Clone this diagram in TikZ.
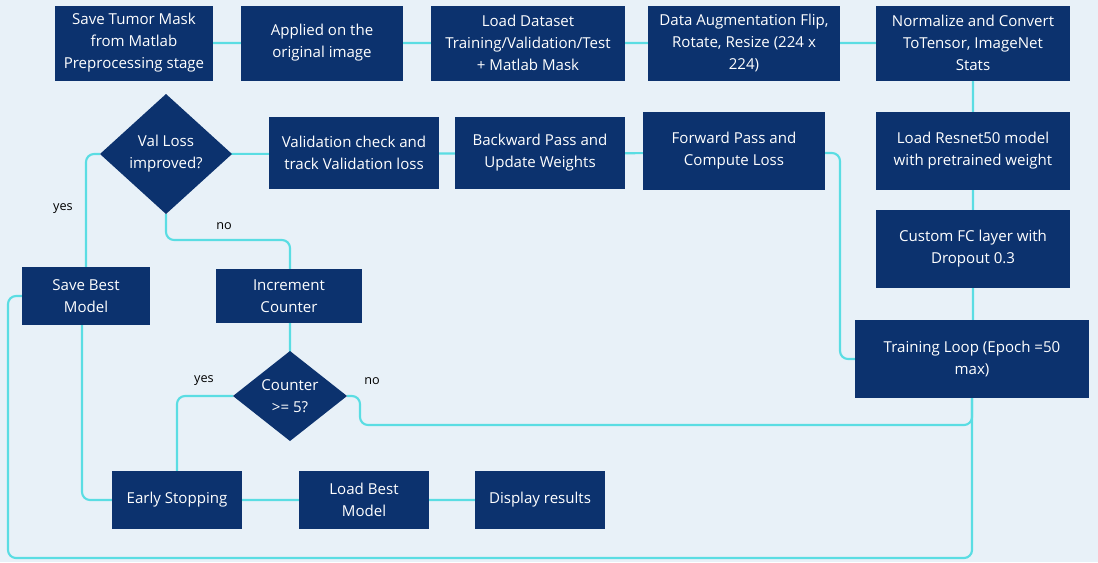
\documentclass[tikz,border=0pt]{standalone}
\usepackage{fontspec}
\setmainfont{Open Sans}
\begin{document}
\begin{tikzpicture}[x=0.75pt,y=-0.75pt,
  box/.style={fill=navy,text=white,align=center,inner sep=1pt,font=\fontsize{11.3}{16.5}\selectfont},
  dia/.style={fill=navy},
  dtext/.style={text=white,align=center,font=\fontsize{11.3}{16.5}\selectfont},
  con/.style={draw=cyanl,line width=1.6pt,rounded corners=6pt},
  lab/.style={font=\fontsize{9.5}{11}\selectfont,text=black}]
\definecolor{navy}{HTML}{0C326E}
\definecolor{cyanl}{HTML}{5ADDE3}
\definecolor{bg}{HTML}{E8F1F8}
\fill[bg] (0,0) rectangle (1098,562);
\useasboundingbox (0,0) rectangle (1098,562);
% connectors first
\coordinate (c8b) at (972,397);
\draw[con] (22,296) -- (8,296) -- (8,558) -- (972,558) -- (c8b);
\draw[con] (347,396) -- (360,396) -- (360,425) -- (972,425) -- (c8b);
\draw[con] (134,43) -- (973,43) -- (973,359);
\draw[con] (734,153) -- (840,153) -- (840,359) -- (972,359);
\draw[con] (734,153) -- (166,154);
\draw[con] (100,154) -- (86,154) -- (86,296);
\draw[con] (166,214) -- (166,240) -- (290,240) -- (290,396);
\draw[con] (233,396) -- (177,396) -- (177,500);
\draw[con] (82,296) -- (82,500) -- (540,500);
% boxes
\node[box,minimum width=118.5pt,minimum height=56.25pt] (n1) at (134,43) {Save Tumor Mask\\from Matlab\\Preprocessing stage};
\node[box,minimum width=121.5pt,minimum height=56.25pt] (n2) at (322,43) {Applied on the\\original image};
\node[box,minimum width=145.5pt,minimum height=56.25pt] (n3) at (528,43) {Load Dataset\\Training/Validation/Test\\+ Matlab Mask};
\node[box,minimum width=144pt,minimum height=56.25pt] (n4) at (744,43) {Data Augmentation Flip,\\Rotate, Resize (224 x\\224)};
\node[box,minimum width=145pt,minimum height=56.25pt] (n5) at (973,43) {Normalize and Convert\\ToTensor, ImageNet\\Stats};
\node[box,minimum width=145pt,minimum height=58.5pt] (n6) at (973,151) {Load Resnet50 model\\with pretrained weight};
\node[box,minimum width=145pt,minimum height=58.5pt] (n7) at (973,249) {Custom FC layer with\\Dropout 0.3};
\node[box,minimum width=176pt,minimum height=58pt] (n8) at (972,359) {Training Loop (Epoch =50\\max)};
\node[box,minimum width=136.5pt,minimum height=58.5pt] (n9) at (734,151) {Forward Pass and\\Compute Loss};
\node[box,minimum width=127pt,minimum height=54pt] (n10) at (540,153) {Backward Pass and\\Update Weights};
\node[box,minimum width=127.5pt,minimum height=54pt] (n11) at (354,153) {Validation check and\\track Validation loss};
\node[box,minimum width=96pt,minimum height=43pt] (n13) at (86,296) {Save Best\\Model};
\node[box,minimum width=110pt,minimum height=41pt] (n14) at (289,296) {Increment\\Counter};
\node[box,minimum width=98pt,minimum height=43pt] (n16) at (177,500) {Early Stopping};
\node[box,minimum width=97pt,minimum height=43pt] (n17) at (364,500) {Load Best\\Model};
\node[box,minimum width=97pt,minimum height=43pt] (n18) at (540,500) {Display results};
% diamonds
\fill[navy] (166,94) -- (232,154) -- (166,214) -- (100,154) -- cycle;
\node[dtext] (d1) at (166,154) {Val Loss\\improved?};
\fill[navy] (290,351) -- (347,396) -- (290,441) -- (233,396) -- cycle;
\node[dtext] (d2) at (290,396) {Counter\\>= 5?};
% labels
\node[lab] (l1) at (63,209) {yes};
\node[lab] (l2) at (224,226) {no};
\node[lab] (l3) at (204,381) {yes};
\node[lab] (l4) at (372,381) {no};
\end{tikzpicture}
\end{document}
